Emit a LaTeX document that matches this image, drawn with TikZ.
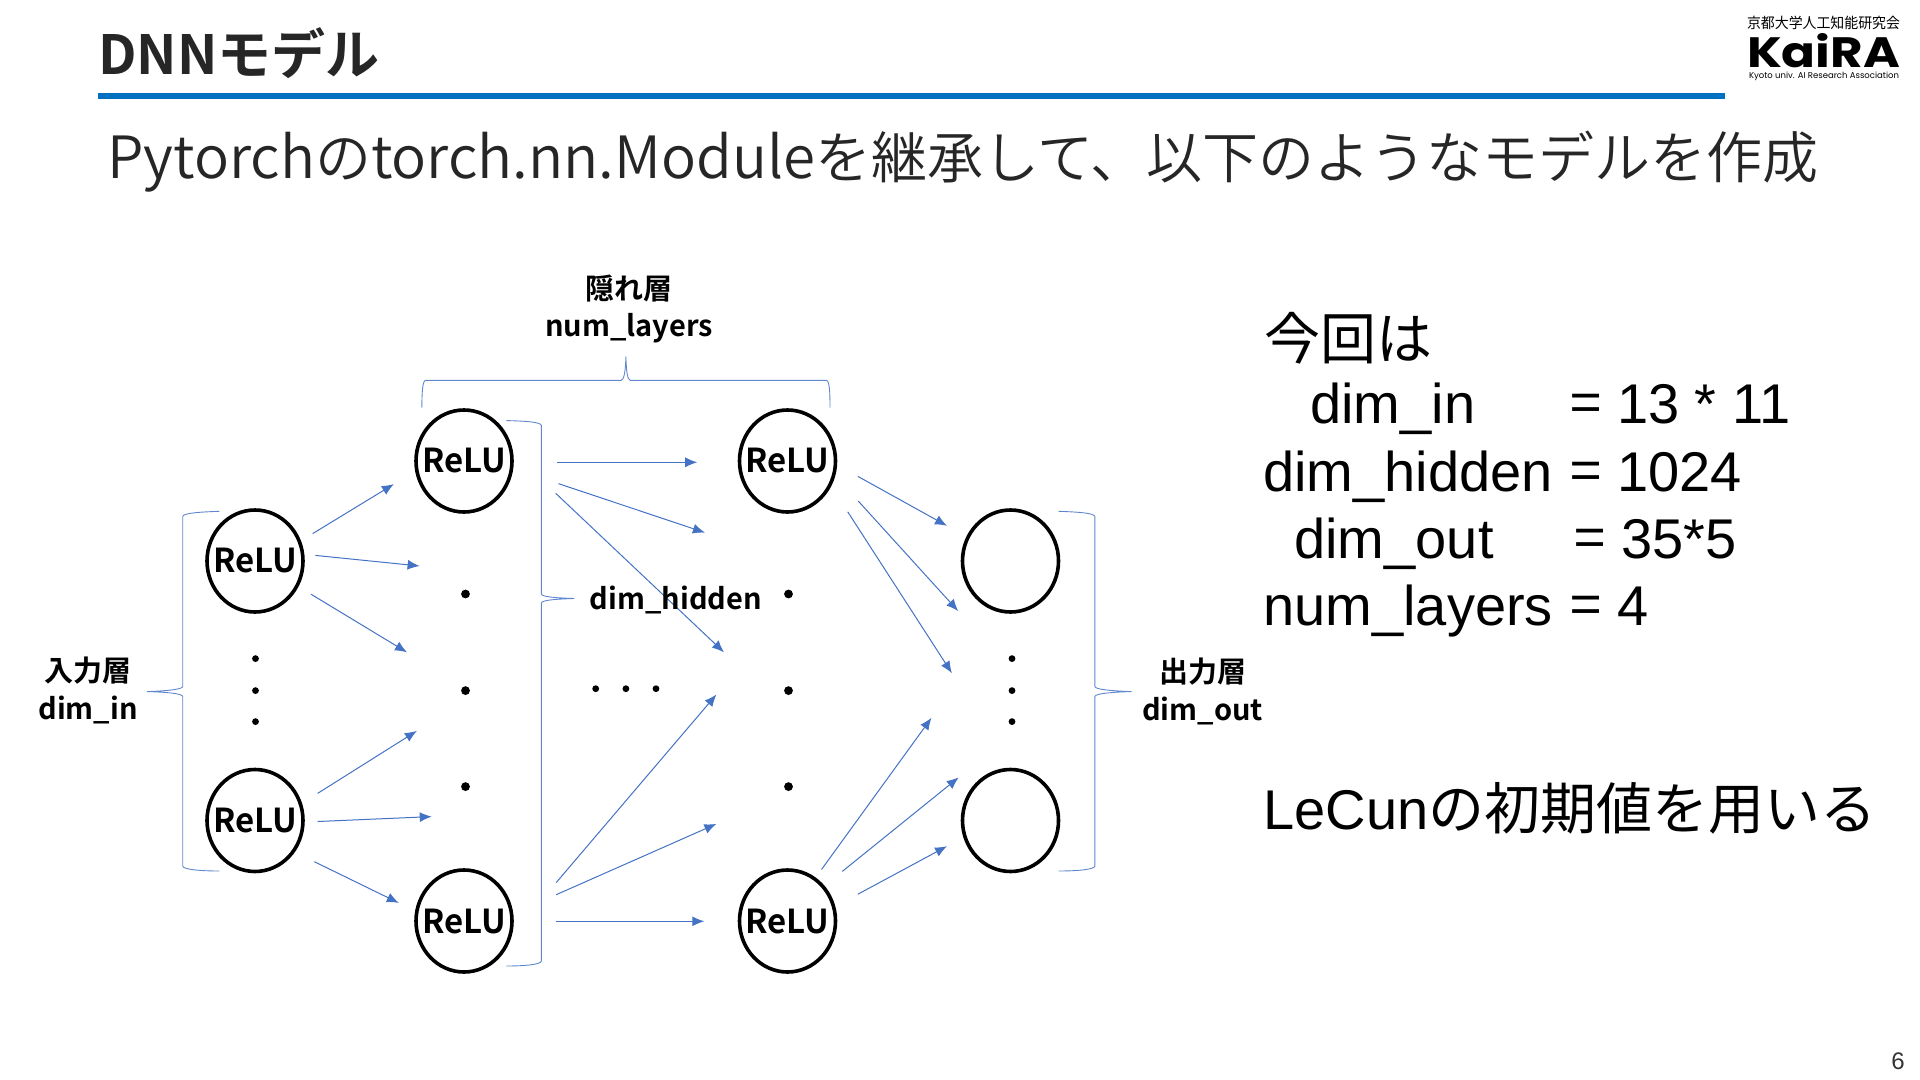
\documentclass[tikz,border=0pt]{standalone}
\usepackage{fontspec}
\usepackage{graphicx}
\usetikzlibrary{shapes.geometric,arrows.meta}
\setmainfont{Liberation Sans}
\newfontfamily\jpfont{Noto Sans CJK JP}
\newfontfamily\jpbold{Noto Sans CJK JP Bold}
\newfontfamily\jplight{Noto Sans CJK JP DemiLight}
\newcommand{\subfont}[1]{{\fontsize{29.1}{29.1}\selectfont #1}}
\definecolor{kblue}{HTML}{4472C4}
\definecolor{krule}{HTML}{0070C0}
\tikzset{
  unit/.style={draw,ellipse,line width=1.8pt,minimum width=48pt,minimum height=51pt,inner xsep=-4pt,inner ysep=0pt,font=\jpbold\fontsize{16.5}{16.5}\selectfont},
  conn/.style={-{Latex[length=6pt,width=5pt]},kblue,line width=0.5pt},
  brc/.style={kblue!85,line width=0.45pt},
  bigdot/.style={circle,fill,inner sep=0pt,minimum size=4.4pt},
  smalldot/.style={circle,fill,inner sep=0pt,minimum size=3.4pt},
  lbl/.style={font=\jpbold\fontsize{14.5}{14.5}\selectfont},
  side/.style={anchor=base west,inner sep=0pt,font=\fontsize{28}{28}\selectfont}
}
\begin{document}
\begin{tikzpicture}[x=0.5pt,y=-0.5pt]
        \useasboundingbox (0,0) rectangle (1920,1080);

        % title
        \node[anchor=west,inner sep=0pt,text=black!85,font=\jpbold\fontsize{27}{27}\selectfont] (title) at (98,53) {DNNモデル};
        \coordinate (rulea) at (98,96);
        \coordinate (ruleb) at (1725,96);
        \draw[krule,line width=2.8pt] (rulea) -- (ruleb);
        \node[anchor=west,inner sep=0pt,text=black!85,font=\jplight\fontsize{28}{28}\selectfont] (subtitle) at (107,161.5) {\subfont{Pytorch}の\subfont{torch.nn.Module}を継承して、以下のようなモデルを作成};

        % logo
        \node[inner sep=0pt] (logotop) at (1823.5,23) {\resizebox{76.5pt}{6.2pt}{\jpfont 京都大学人工知能研究会}};
        \node[inner sep=0pt] (logo) at (1823.5,50.5) {\resizebox{76.5pt}{17pt}{\fontspec{Poppins}\bfseries KaiRA}};
        \node[inner sep=0pt] (logosub) at (1824,76.5) {\resizebox{75pt}{!}{\fontspec{Poppins}Kyoto univ. AI Research Association}};

        % units
        \node[unit] (in1) at (255,561) {ReLU};
        \node[unit] (in2) at (255,820.5) {ReLU};
        \node[unit] (hi1) at (464,461) {ReLU};
        \node[unit] (hi2) at (464,921) {ReLU};
        \node[unit] (hj1) at (787.5,461) {ReLU};
        \node[unit] (hj2) at (787.5,921) {ReLU};
        \node[unit] (out1) at (1010.5,561) {};
        \node[unit] (out2) at (1010.5,820.5) {};

        % dots
        \foreach \y/\n in {594/1,690.6/2,786.6/3} {
            \node[bigdot] (hid\n) at (465.5,\y) {};
            \node[bigdot] (hjd\n) at (788.5,\y) {};
        }
        \foreach \y/\n in {658.6/1,690.6/2,721.6/3} {
            \node[smalldot] (ind\n) at (255.5,\y) {};
            \node[smalldot] (outd\n) at (1012,\y) {};
        }
        \foreach \x/\n in {595.7/1,625.9/2,656/3}
            \node[smalldot] (midd\n) at (\x,688.7) {};

        % input to hidden
        \coordinate (a1) at (312.7,533.6);
        \coordinate (b1) at (393.9,484.1);
        \coordinate (a2) at (315.4,555.4);
        \coordinate (b2) at (419.6,566);
        \coordinate (a3) at (311,594.2);
        \coordinate (b3) at (407,652.3);
        \coordinate (a4) at (317.6,793.4);
        \coordinate (b4) at (416.9,730.9);
        \coordinate (a5) at (317.6,821.5);
        \coordinate (b5) at (431.7,816.6);
        \coordinate (a6) at (314.3,861.7);
        \coordinate (b6) at (398.8,902.9);
        \draw[conn] (a1) -- (b1);
        \draw[conn] (a2) -- (b2);
        \draw[conn] (a3) -- (b3);
        \draw[conn] (a4) -- (b4);
        \draw[conn] (a5) -- (b5);
        \draw[conn] (a6) -- (b6);

        % hidden to hidden
        \coordinate (c1) at (557.3,462.3);
        \coordinate (d1) at (697.2,462.3);
        \coordinate (c2) at (558.4,483.6);
        \coordinate (d2) at (704.9,532.6);
        \coordinate (c3) at (555.7,493.3);
        \coordinate (d3) at (724,652.3);
        \coordinate (c4) at (556.2,882.6);
        \coordinate (d4) at (716.4,694.5);
        \coordinate (c5) at (556.2,894.7);
        \coordinate (d5) at (716.4,823.9);
        \coordinate (c6) at (556.2,921.3);
        \coordinate (d6) at (704.3,921.3);
        \draw[conn] (c1) -- (d1);
        \draw[conn] (c2) -- (d2);
        \draw[conn] (c3) -- (d3);
        \draw[conn] (c4) -- (d4);
        \draw[conn] (c5) -- (d5);
        \draw[conn] (c6) -- (d6);

        % hidden to output
        \coordinate (e1) at (857.9,476.4);
        \coordinate (f1) at (947,525.8);
        \coordinate (e2) at (858.3,501.1);
        \coordinate (f2) at (958.2,611.1);
        \coordinate (e3) at (847.7,511.8);
        \coordinate (f3) at (951.9,673.2);
        \coordinate (e4) at (821.5,869.5);
        \coordinate (f4) at (931.5,717.8);
        \coordinate (e5) at (842.3,871.4);
        \coordinate (f5) at (958.7,777.4);
        \coordinate (e6) at (857.9,894.2);
        \coordinate (f6) at (947,846.2);
        \draw[conn] (e1) -- (f1);
        \draw[conn] (e2) -- (f2);
        \draw[conn] (e3) -- (f3);
        \draw[conn] (e4) -- (f4);
        \draw[conn] (e5) -- (f5);
        \draw[conn] (e6) -- (f6);

        % braces
        \draw[brc] (219.4,511.3) .. controls (200,512) and (183,513) .. (182.7,516.6) -- (182.7,686.5)
            .. controls (182.7,689.5) and (165,691) .. (147,691.6) .. controls (165,692) and (182.7,693.5) .. (182.7,696.5)
            -- (182.7,866) .. controls (183,869.5) and (200,871) .. (219.4,871);
        \draw[brc] (506.3,420.6) .. controls (525,421) and (541,422) .. (541.4,425.5) -- (541.4,594)
            .. controls (541.4,597) and (558,598) .. (574.3,598.5) .. controls (558,599) and (541.4,600) .. (541.4,603)
            -- (541.4,961) .. controls (541,964.5) and (525,966) .. (506.3,966);
        \draw[brc] (1058.5,511.3) .. controls (1078,512) and (1094.5,513) .. (1094.9,516.6) -- (1094.9,686.5)
            .. controls (1094.9,689.5) and (1113,691) .. (1131.7,691.6) .. controls (1113,692) and (1094.9,693.5) .. (1094.9,696.5)
            -- (1094.9,866) .. controls (1094.5,869.5) and (1078,871) .. (1058.5,871);
        \draw[brc] (421.8,407.5) .. controls (422,392) and (422.5,381) .. (425.5,380.4) -- (621,380.4)
            .. controls (624,380) and (625.5,372) .. (625.9,356.6) .. controls (626.3,372) and (627.5,380) .. (630.5,380.4)
            -- (826.5,380.4) .. controls (829.5,381) and (830,392) .. (830,407.5);

        % labels
        \node[lbl] (hidname) at (629,289) {隠れ層};
        \node[lbl] (hidnum) at (629,328.5) {num\_layers};
        \node[lbl] (inname) at (88,671) {入力層};
        \node[lbl] (indim) at (88,710) {dim\_in};
        \node[lbl] (hiddim) at (676,600) {dim\_hidden};
        \node[lbl] (outname) at (1202.5,672) {出力層};
        \node[lbl] (outdim) at (1202.5,711) {dim\_out};

        % right column
        \node[side] (now) at (1264,359) {\jpfont 今回は};
        \node[side] (dimin) at (1310,423) {dim\_in};
        \node[side] (dimhid) at (1263,491) {dim\_hidden};
        \node[side] (dimout) at (1294,558) {dim\_out};
        \node[side] (numlay) at (1263,625) {num\_layers};
        \node[side] (valin) at (1570,423) {{\jpfont =} 13 * 11};
        \node[side] (valhid) at (1570,491) {{\jpfont =} 1024};
        \node[side] (valout) at (1574,558) {{\jpfont =} 35*5};
        \node[side] (vallay) at (1570,625) {{\jpfont =} 4};
        \node[side] (lecun) at (1263,829) {LeCun{\jpfont の初期値を用いる}};

        \node[text=black!80,font=\fontsize{12}{12}\selectfont] (pagenum) at (1898,1061) {6};
    \end{tikzpicture}
\end{document}
